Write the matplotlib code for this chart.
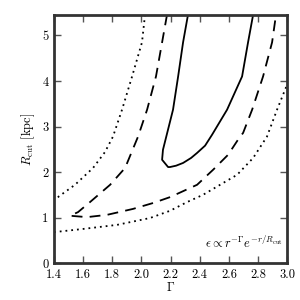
import matplotlib
matplotlib.use("Agg")
import matplotlib.pyplot as plt

plt.rcParams['font.family'] = 'serif'
plt.rcParams['font.serif'] = ['cmr10', 'DejaVu Serif']
plt.rcParams['mathtext.fontset'] = 'cm'
plt.rcParams['axes.formatter.use_mathtext'] = True

# contours (Gamma, R_cut)
solid_g = [2.32, 2.286, 2.252, 2.217, 2.148, 2.142, 2.183, 2.196, 2.238, 2.286,
           2.341, 2.382, 2.437, 2.485, 2.588, 2.691, 2.732, 2.767]
solid_r = [5.46, 4.85, 4.10, 3.37, 2.49, 2.27, 2.11, 2.11, 2.14, 2.20,
           2.31, 2.42, 2.58, 2.82, 3.37, 4.10, 4.85, 5.46]

dash_g = [2.176, 2.142, 2.100, 2.039, 1.977, 1.888, 1.785, 1.647, 1.565, 1.510,
          1.627, 1.764, 1.942, 2.080, 2.197, 2.382, 2.492, 2.595, 2.663, 2.698,
          2.760, 2.835, 2.897, 2.924]
dash_r = [5.46, 4.85, 4.10, 3.37, 2.78, 2.09, 1.72, 1.34, 1.12, 1.04,
          1.01, 1.06, 1.19, 1.32, 1.45, 1.72, 2.05, 2.38, 2.71, 2.86,
          3.37, 4.10, 4.85, 5.46]

dot_up_g = [2.025, 2.004, 1.936, 1.867, 1.805, 1.750, 1.668, 1.544, 1.427, 1.40]
dot_up_r = [5.46, 4.85, 4.10, 3.37, 2.78, 2.44, 2.09, 1.72, 1.45, 1.41]
dot_lo_g = [1.40, 1.599, 1.833, 2.059, 2.197, 2.313, 2.423, 2.540, 2.657, 2.767,
            2.862, 2.931, 3.0]
dot_lo_r = [0.68, 0.75, 0.84, 0.99, 1.15, 1.34, 1.50, 1.72, 1.94, 2.31,
            2.78, 3.37, 3.92]

fig = plt.figure(figsize=(3, 3), dpi=100)
ax = fig.add_axes([0.18, 0.123, 0.777, 0.827])

ax.plot(solid_g, solid_r, color='k', lw=1.3, ls='-')
ax.plot(dash_g, dash_r, color='k', lw=1.3, ls=(0, (6, 4)))
ax.plot(dot_up_g, dot_up_r, color='k', lw=1.3, ls=(0, (1, 2.2)))
ax.plot(dot_lo_g, dot_lo_r, color='k', lw=1.3, ls=(0, (1, 2.2)))

ax.set_xlim(1.4, 3.0)
ax.set_ylim(0, 5.45)
ax.set_xticks([1.4, 1.6, 1.8, 2.0, 2.2, 2.4, 2.6, 2.8, 3.0])
ax.set_yticks([0, 1, 2, 3, 4, 5])
ax.set_xticklabels(['1.4', '1.6', '1.8', '2.0', '2.2', '2.4', '2.6', '2.8', '3.0'])
ax.set_yticklabels(['0', '1', '2', '3', '4', '5'])
ax.tick_params(direction='in', top=True, right=True, length=5, width=1,
               color='#555555', labelsize=9, pad=4)
for s in ax.spines.values():
    s.set_linewidth(2)
    s.set_color('#333333')

ax.set_xlabel(r'$\Gamma$', fontsize=9, labelpad=0)
ax.set_ylabel(r'$R_{\rm cut}$ [kpc]', fontsize=9, labelpad=4)

ax.text(0.98, 0.05, r'$\epsilon \propto r^{-\Gamma}e^{-r/R_{\rm cut}}$',
        transform=ax.transAxes, ha='right', va='bottom', fontsize=9)

fig.savefig('out.png', dpi=100)
